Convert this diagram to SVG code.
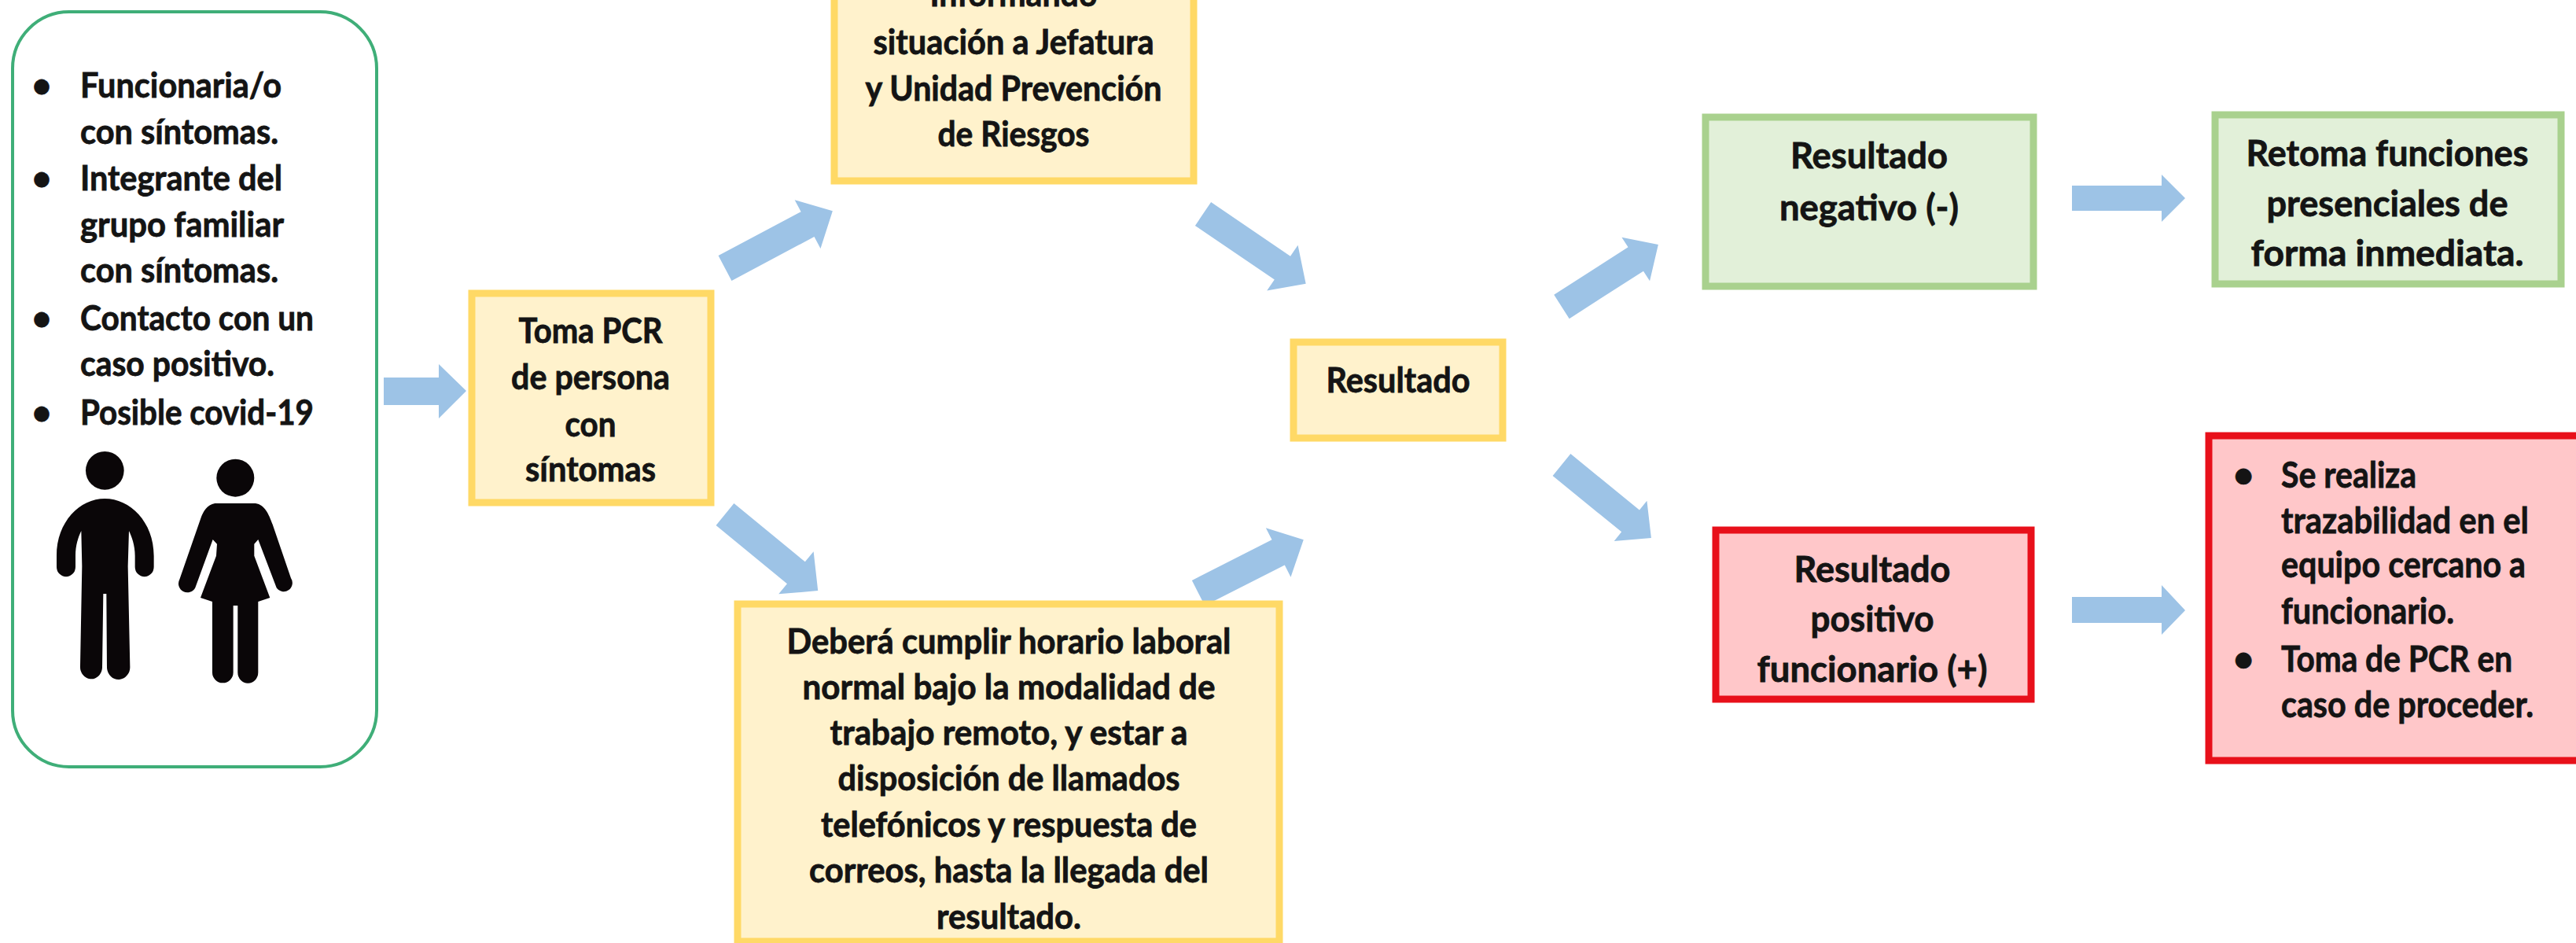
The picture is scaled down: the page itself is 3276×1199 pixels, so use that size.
<svg xmlns="http://www.w3.org/2000/svg" width="3276" height="1199" viewBox="0 0 3276 1199">
<style>
text{font-family:"Lato","Liberation Sans",sans-serif;font-weight:700;font-size:43px;fill:#141414;stroke:#141414;stroke-width:.8}
.c{text-anchor:middle}
.t text{font-size:46px}
.y{fill:#FFF2CC;stroke:#FFD966;stroke-width:9}
.g{fill:#E2F0D9;stroke:#A9D18E;stroke-width:9}
.r{fill:#FFC7C9;stroke:#E8101A;stroke-width:9}
.a{fill:#9DC3E6}
.p{fill:#0A0608}
</style>
<rect width="3276" height="1199" fill="#fff"/>
<g id="connectors" class="a">
<polygon points="488,480 558,480 558,463 593,497 558,532 558,515 488,515"/>
<g transform="translate(922,341) rotate(-28)"><polygon points="0,-18 119,-18 119,-35 155,0 119,35 119,18 0,18"/></g>
<g transform="translate(1530,272) rotate(34.2)"><polygon points="0,-18 122,-18 122,-35 158,0 122,35 122,18 0,18"/></g>
<g transform="translate(922,654) rotate(39.4)"><polygon points="0,-18 117,-18 117,-35 153,0 117,35 117,18 0,18"/></g>
<g transform="translate(1524,754) rotate(-26.9)"><polygon points="0,-18 114,-18 114,-35 150,0 114,35 114,18 0,18"/></g>
<g transform="translate(1986,390) rotate(-32.7)"><polygon points="0,-18 112,-18 112,-33 146,0 112,33 112,18 0,18"/></g>
<g transform="translate(1986,591) rotate(39.2)"><polygon points="0,-18 113,-18 113,-33 147,0 113,33 113,18 0,18"/></g>
<polygon points="2635,236 2749,236 2749,222 2779,252 2749,282 2749,268 2635,268"/>
<polygon points="2635,759 2749,759 2749,744 2779,776 2749,807 2749,792 2635,792"/>
</g>
<g id="sintomas">
<rect x="16" y="15" width="463" height="960" rx="72" fill="#fff" stroke="#3FAE78" stroke-width="4"/>
<text x="53" y="124" class="c">•</text>
<text x="102" y="124" textLength="256" lengthAdjust="spacingAndGlyphs">Funcionaria/o</text>
<text x="102" y="183" textLength="252" lengthAdjust="spacingAndGlyphs">con síntomas.</text>
<text x="53" y="242" class="c">•</text>
<text x="102" y="242" textLength="257" lengthAdjust="spacingAndGlyphs">Integrante del</text>
<text x="102" y="301" textLength="259" lengthAdjust="spacingAndGlyphs">grupo familiar</text>
<text x="102" y="359" textLength="252" lengthAdjust="spacingAndGlyphs">con síntomas.</text>
<text x="53" y="420" class="c">•</text>
<text x="102" y="420" textLength="297" lengthAdjust="spacingAndGlyphs">Contacto con un</text>
<text x="102" y="478" textLength="247" lengthAdjust="spacingAndGlyphs">caso positivo.</text>
<text x="53" y="540" class="c">•</text>
<text x="102" y="540" textLength="297" lengthAdjust="spacingAndGlyphs">Posible covid-19</text>
<g class="p" transform="translate(50,560) scale(0.3333)">
<circle cx="250" cy="115" r="73"/>
<path d="M250,222C345,222 437,310 437,440V482A36,38 0 0 1 365,482V440C365,400 352,365 342,345L338,480L346,860A44,48 0 0 1 258,868L256,585H244L240,868A42,46 0 0 1 156,860L163,480L160,345C148,370 138,400 138,440V482A36,38 0 0 1 66,482V440C66,310 155,222 250,222Z"/>
<circle cx="748" cy="143" r="72"/>
<path d="M670,240H825C860,245 875,280 890,320L960,525A31,31 0 0 1 905,562L835,378L820,395V440L880,600L835,615V885A38,40 0 0 1 757,885V630H740V885A40,40 0 0 1 660,885V615L615,600L675,440L678,395L662,378L595,562A31,31 0 0 1 535,530L615,300C625,270 640,245 670,240Z"/>
</g>
</g>
<g id="toma-pcr">
<rect class="y" x="600" y="373" width="304" height="266"/>
<text x="751" y="436" class="c" textLength="183" lengthAdjust="spacingAndGlyphs">Toma PCR</text>
<text x="751" y="495" class="c" textLength="202" lengthAdjust="spacingAndGlyphs">de persona</text>
<text x="751" y="555" class="c" textLength="65" lengthAdjust="spacingAndGlyphs">con</text>
<text x="751" y="612" class="c" textLength="166" lengthAdjust="spacingAndGlyphs">síntomas</text>
</g>
<g id="informando">
<rect class="y" x="1061" y="-20" width="457" height="250"/>
<text x="1289" y="8" class="c" textLength="213" lengthAdjust="spacingAndGlyphs">Informando</text>
<text x="1289" y="69" class="c" textLength="357" lengthAdjust="spacingAndGlyphs">situación a Jefatura</text>
<text x="1289" y="128" class="c" textLength="377" lengthAdjust="spacingAndGlyphs">y Unidad Prevención</text>
<text x="1289" y="186" class="c" textLength="193" lengthAdjust="spacingAndGlyphs">de Riesgos</text>
</g>
<g id="teletrabajo">
<rect class="y" x="938" y="768" width="689" height="429"/>
<text x="1283" y="831" class="c" textLength="565" lengthAdjust="spacingAndGlyphs">Deberá cumplir horario laboral</text>
<text x="1283" y="889" class="c" textLength="525" lengthAdjust="spacingAndGlyphs">normal bajo la modalidad de</text>
<text x="1283" y="947" class="c" textLength="455" lengthAdjust="spacingAndGlyphs">trabajo remoto, y estar a</text>
<text x="1283" y="1005" class="c" textLength="435" lengthAdjust="spacingAndGlyphs">disposición de llamados</text>
<text x="1283" y="1064" class="c" textLength="478" lengthAdjust="spacingAndGlyphs">telefónicos y respuesta de</text>
<text x="1283" y="1122" class="c" textLength="508" lengthAdjust="spacingAndGlyphs">correos, hasta la llegada del</text>
<text x="1283" y="1181" class="c" textLength="184" lengthAdjust="spacingAndGlyphs">resultado.</text>
</g>
<g id="resultado">
<rect class="y" x="1645" y="435" width="266" height="122"/>
<text x="1778" y="499" class="c" textLength="183" lengthAdjust="spacingAndGlyphs">Resultado</text>
</g>
<g id="negativo" class="t">
<rect class="g" x="2169" y="149" width="417" height="215"/>
<text x="2377" y="214" class="c" textLength="200" lengthAdjust="spacingAndGlyphs">Resultado</text>
<text x="2377" y="280" class="c" textLength="228" lengthAdjust="spacingAndGlyphs">negativo (-)</text>
</g>
<g id="retoma" class="t">
<rect class="g" x="2817" y="146" width="440" height="215"/>
<text x="3036" y="211" class="c" textLength="359" lengthAdjust="spacingAndGlyphs">Retoma funciones</text>
<text x="3036" y="275" class="c" textLength="307" lengthAdjust="spacingAndGlyphs">presenciales de</text>
<text x="3036" y="338" class="c" textLength="347" lengthAdjust="spacingAndGlyphs">forma inmediata.</text>
</g>
<g id="positivo" class="t">
<rect class="r" x="2182" y="674" width="401" height="215"/>
<text x="2381" y="740" class="c" textLength="199" lengthAdjust="spacingAndGlyphs">Resultado</text>
<text x="2381" y="803" class="c" textLength="157" lengthAdjust="spacingAndGlyphs">positivo</text>
<text x="2381" y="867" class="c" textLength="293" lengthAdjust="spacingAndGlyphs">funcionario (+)</text>
</g>
<g id="trazabilidad" class="t">
<rect class="r" x="2809" y="554" width="490" height="413"/>
<text x="2853" y="620" class="c">•</text>
<text x="2901" y="620" textLength="172" lengthAdjust="spacingAndGlyphs">Se realiza</text>
<text x="2901" y="678" textLength="315" lengthAdjust="spacingAndGlyphs">trazabilidad en el</text>
<text x="2901" y="734" textLength="311" lengthAdjust="spacingAndGlyphs">equipo cercano a</text>
<text x="2901" y="793" textLength="220" lengthAdjust="spacingAndGlyphs">funcionario.</text>
<text x="2853" y="854" class="c">•</text>
<text x="2901" y="854" textLength="294" lengthAdjust="spacingAndGlyphs">Toma de PCR en</text>
<text x="2901" y="912" textLength="321" lengthAdjust="spacingAndGlyphs">caso de proceder.</text>
</g>
</svg>
